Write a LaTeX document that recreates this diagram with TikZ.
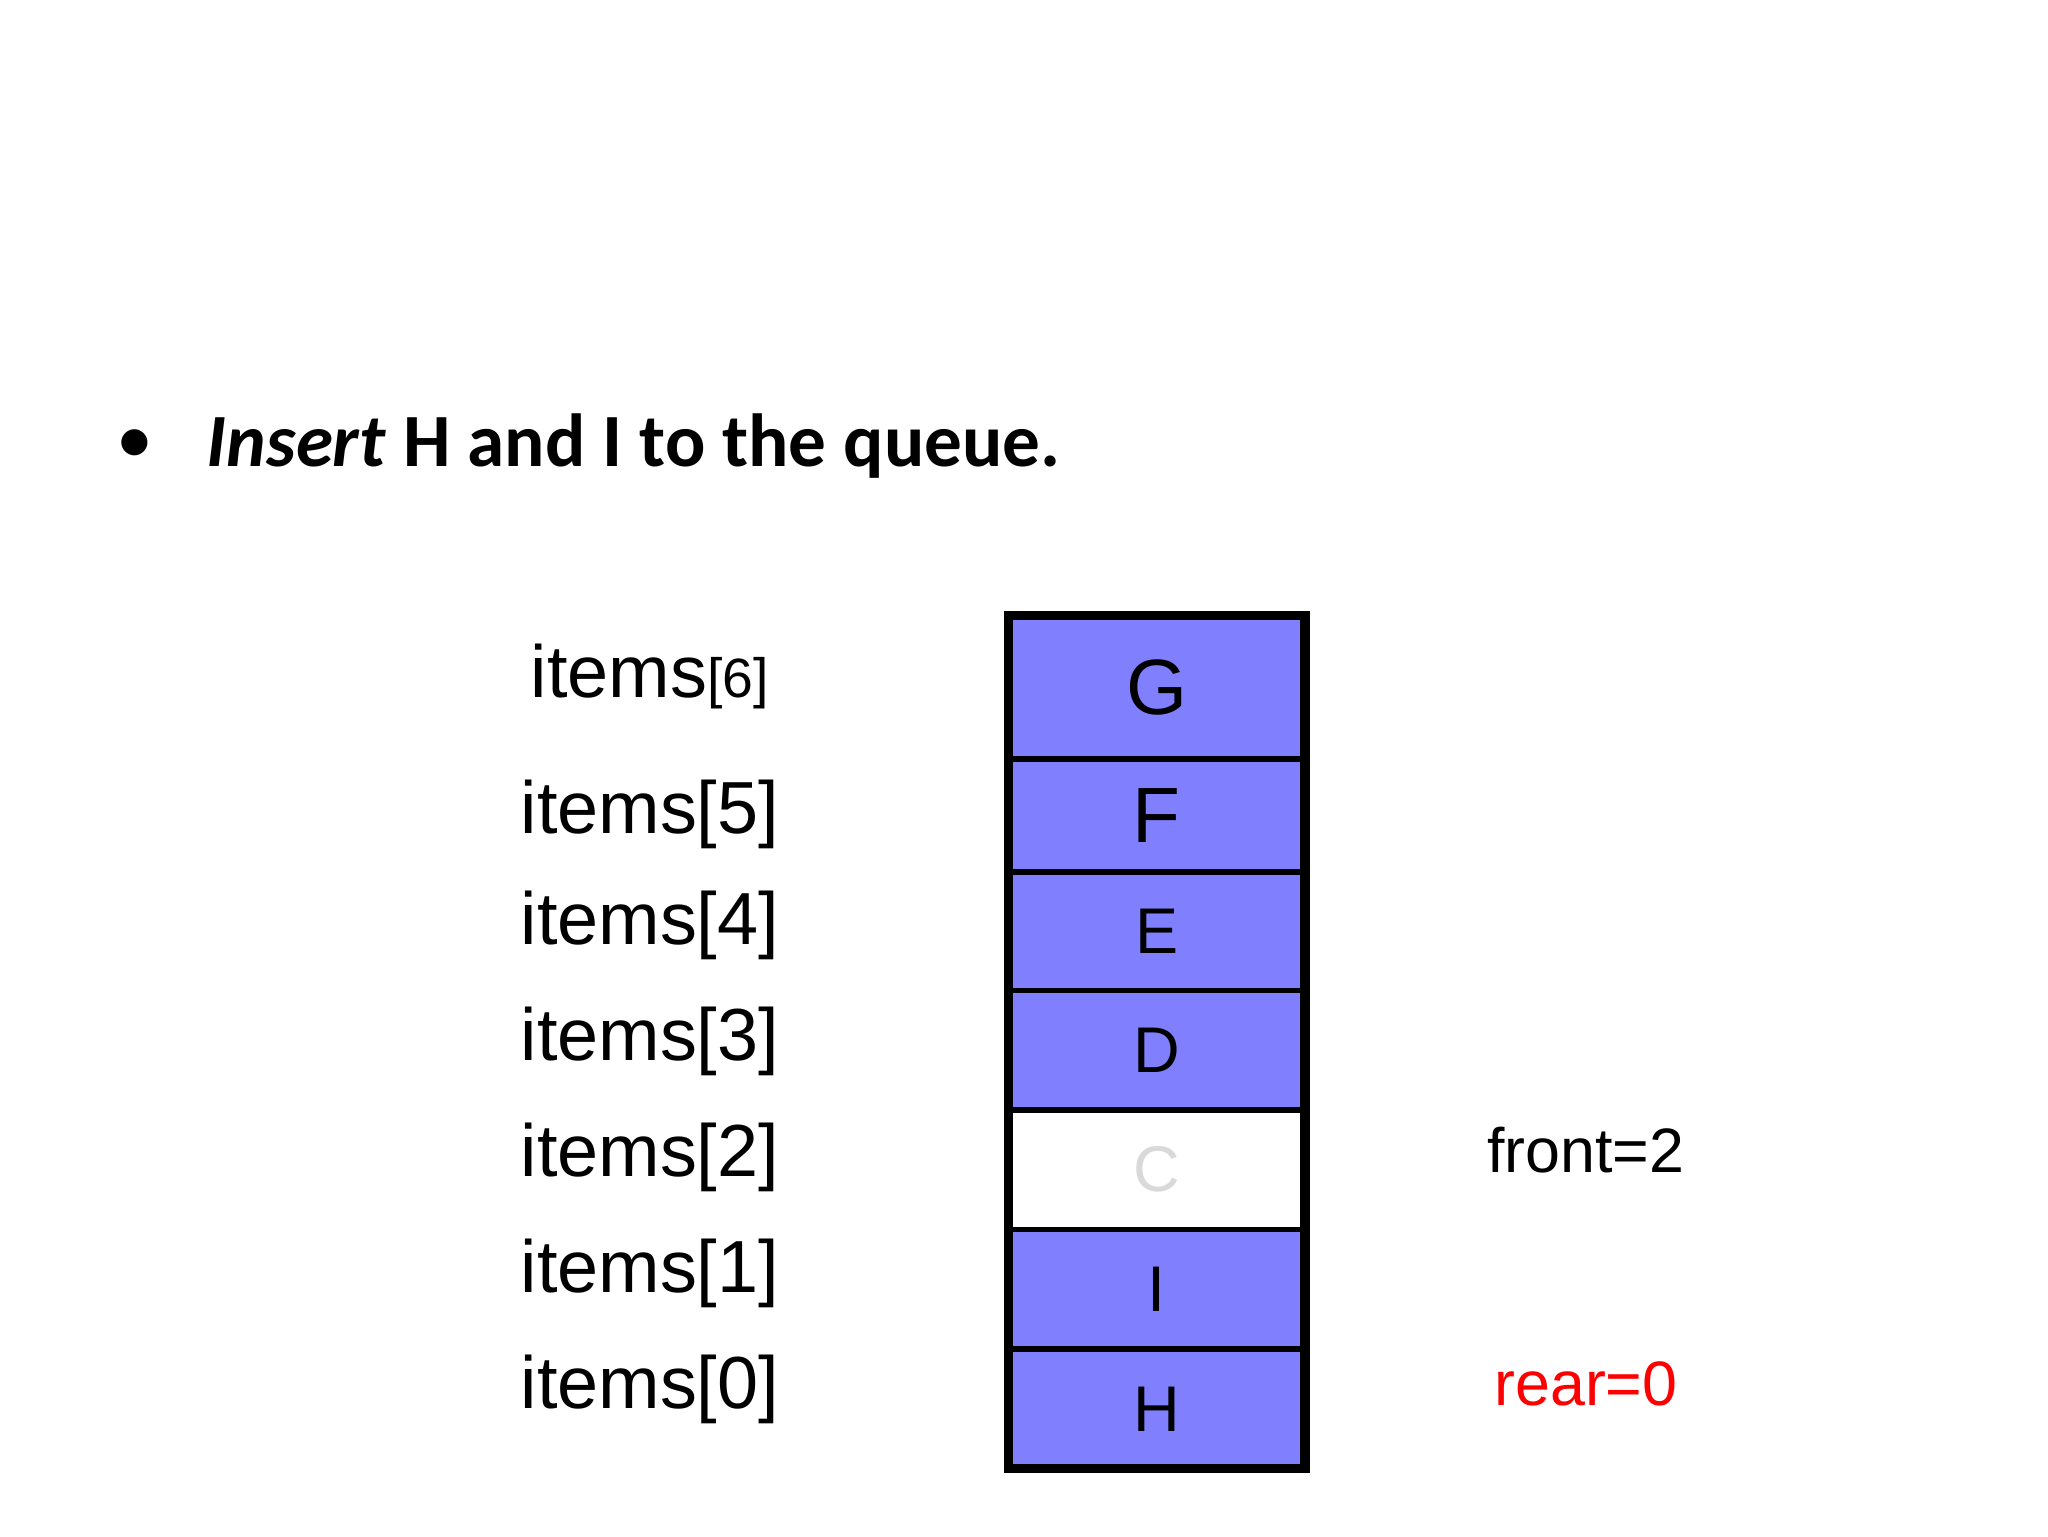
\documentclass[tikz,border=0pt]{standalone}
\usepackage{fontspec}
\setmainfont{Liberation Sans}
\newfontfamily\titlefont{Carlito}
\usetikzlibrary{positioning}
\definecolor{cellblue}{RGB}{128,128,255}
\begin{document}
\begin{tikzpicture}[x=1cm,y=1cm]
\tikzset{cell/.style={draw, line width=0.6pt, fill=cellblue, minimum width=2.24cm, inner sep=0pt, anchor=north},
         idx/.style={font=\fontsize{16}{18}\selectfont}}
\useasboundingbox (0,0) rectangle (15.6,11.7);
% title
\node (bullet) at (1.03,8.3) {\titlefont\fontsize{16}{18}\selectfont\textbullet};
\node[anchor=west] (title) at (1.45,8.3) {\titlefont\fontsize{16.3}{19}\selectfont\bfseries\textit{Insert} H and I to the queue.};
% cells, top to bottom
\node[cell, minimum height=1.07cm] (g) at (8.81,7.01) {\fontsize{17}{19}\selectfont G};
\node[cell, minimum height=0.84cm, below=0pt of g] (f) {\fontsize{17}{19}\selectfont F};
\node[cell, minimum height=0.88cm, below=0pt of f] (e) {\fontsize{14}{16}\selectfont E};
\node[cell, minimum height=0.89cm, below=0pt of e] (d) {\fontsize{14}{16}\selectfont D};
\node[cell, minimum height=0.89cm, below=0pt of d, fill=white] (c) {\fontsize{14}{16}\selectfont\color{black!15}C};
\node[cell, minimum height=0.89cm, below=0pt of c] (i) {\fontsize{14}{16}\selectfont I};
\node[cell, minimum height=0.89cm, below=0pt of i] (h) {\fontsize{14}{16}\selectfont H};
\draw[line width=2pt] (g.north west) rectangle (h.south east);
% index labels
\node[idx] (l6) at (4.95,6.55) {items{\fontsize{12}{14}\selectfont[6]}};
\node[idx] (l5) at (4.95,5.5) {items[5]};
\node[idx] (l4) at (4.95,4.65) {items[4]};
\node[idx] (l3) at (4.95,3.77) {items[3]};
\node[idx] (l2) at (4.95,2.88) {items[2]};
\node[idx] (l1) at (4.95,2.0) {items[1]};
\node[idx] (l0) at (4.95,1.12) {items[0]};
% pointers
\node[font=\fontsize{13.6}{16}\selectfont] (front) at (12.08,2.94) {front=2};
\node[font=\fontsize{13.6}{16}\selectfont, text=red] (rear) at (12.08,1.16) {rear=0};
\end{tikzpicture}
\end{document}
